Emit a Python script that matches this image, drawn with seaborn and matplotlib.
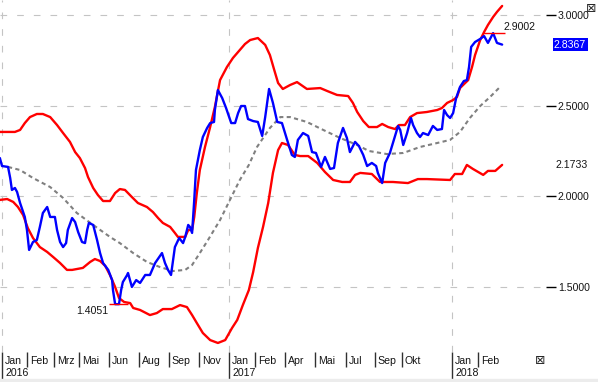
import matplotlib
matplotlib.use("Agg")
import matplotlib.pyplot as plt
import matplotlib.transforms as mtransforms
from matplotlib.patches import Rectangle
import seaborn as sns
import numpy as np

# weekly close (x = weeks since Jan 2016)
price_wk = [-0.5, 0.0, 1.4, 1.9, 2.3, 3.0, 3.5, 4.2, 5.3, 5.8, 6.3, 7.2, 8.1, 8.8, 9.5, 10.5,
            11.2, 12.3, 12.8, 13.5, 14.2, 14.9, 15.3, 16.3, 17.0, 17.7, 18.6, 19.3, 19.8, 20.2,
            21.2, 22.1, 22.8, 23.5, 24.7, 25.6, 25.8, 26.3, 27.2, 27.7, 28.1, 29.1, 29.3, 30.2,
            31.2, 32.1, 33.3, 34.4, 35.6, 37.2, 37.9, 38.6, 39.3, 40.2, 41.2, 42.1, 42.6, 43.3,
            43.7, 44.2, 44.4, 44.7, 45.1, 46.0, 46.7, 47.7, 48.4, 49.3, 49.5, 50.2, 51.2, 52.1,
            53.3, 54.2, 54.9, 55.6, 56.5, 57.2, 58.4, 59.5, 60.5, 61.2, 62.1, 63.0, 64.0, 65.1,
            66.3, 67.4, 68.1, 68.8, 70.0, 71.2, 72.1, 73.0, 74.2, 75.1, 76.3, 77.2, 78.1, 79.3,
            80.2, 80.9, 82.1, 83.0, 84.0, 84.9, 86.0, 87.0, 87.4, 88.4, 89.1, 90.2, 90.9, 92.1,
            92.6, 93.3, 94.2, 95.1, 95.6, 96.5, 97.2, 97.9, 99.1, 100.2, 101.2, 102.3, 102.8,
            103.5, 104.2, 104.9, 105.6, 106.5, 107.4, 108.1, 108.6, 109.1, 110.0, 111.2, 112.1,
            113.0, 114.2, 115.1, 116.3]
price = [2.211, 2.167, 2.162, 2.101, 2.035, 2.046, 2.024, 1.963, 1.886, 1.814, 1.704, 1.748,
         1.759, 1.831, 1.908, 1.941, 1.886, 1.886, 1.814, 1.748, 1.720, 1.742, 1.814, 1.880,
         1.858, 1.803, 1.748, 1.742, 1.814, 1.853, 1.842, 1.759, 1.687, 1.632, 1.594, 1.538,
         1.483, 1.4051, 1.4051, 1.483, 1.527, 1.566, 1.577, 1.500, 1.538, 1.522, 1.566, 1.566,
         1.632, 1.687, 1.632, 1.594, 1.566, 1.720, 1.770, 1.742, 1.776, 1.842, 1.831, 1.798,
         1.869, 1.980, 2.145, 2.255, 2.327, 2.377, 2.404, 2.410, 2.476, 2.586, 2.542, 2.487,
         2.404, 2.404, 2.459, 2.498, 2.498, 2.426, 2.415, 2.410, 2.333, 2.437, 2.592, 2.515,
         2.410, 2.404, 2.311, 2.228, 2.217, 2.311, 2.349, 2.333, 2.244, 2.239, 2.162, 2.217,
         2.151, 2.156, 2.294, 2.377, 2.322, 2.244, 2.300, 2.277, 2.228, 2.167, 2.184, 2.167,
         2.129, 2.073, 2.184, 2.239, 2.294, 2.388, 2.366, 2.283, 2.349, 2.432, 2.393, 2.349,
         2.327, 2.349, 2.338, 2.388, 2.366, 2.371, 2.476, 2.448, 2.432, 2.459, 2.542, 2.603,
         2.636, 2.641, 2.713, 2.824, 2.851, 2.868, 2.884, 2.846, 2.9002, 2.846, 2.8367]

# upper bollinger band
upper_wk = [-0.5, 3.0, 4.2, 5.3, 6.5, 8.1, 9.5, 11.2, 12.8, 14.2, 15.8, 17.0, 18.1, 19.3, 20.0,
            21.2, 22.3, 23.5, 25.1, 26.3, 27.4, 28.6, 30.2, 31.6, 33.7, 35.1, 36.3, 37.4, 39.1,
            40.2, 40.9, 42.6, 43.3, 44.2, 44.7, 45.3, 46.0, 47.2, 48.4, 49.5, 50.7, 52.3, 53.7,
            55.3, 56.5, 57.7, 59.5, 61.2, 62.3, 63.3, 64.2, 65.3, 67.0, 68.6, 70.9, 74.0, 75.6,
            77.9, 80.5, 81.6, 82.6, 84.0, 85.3, 87.2, 88.4, 89.8, 91.4, 92.3, 93.7, 94.9, 96.5,
            98.8, 101.2, 102.3, 103.5, 104.9, 105.8, 106.5, 107.7, 108.4, 109.3, 110.0, 111.2,
            112.1, 113.0, 114.2, 115.1, 116.3]
upper = [2.355, 2.355, 2.366, 2.404, 2.437, 2.454, 2.454, 2.437, 2.393, 2.349, 2.300, 2.244,
         2.211, 2.156, 2.106, 2.046, 2.007, 1.974, 1.974, 2.018, 2.040, 2.035, 1.996, 1.963,
         1.941, 1.913, 1.880, 1.853, 1.831, 1.798, 1.776, 1.776, 1.814, 1.814, 1.886, 2.018,
         2.145, 2.272, 2.382, 2.493, 2.641, 2.713, 2.763, 2.807, 2.840, 2.862, 2.873, 2.835,
         2.779, 2.697, 2.625, 2.592, 2.614, 2.630, 2.592, 2.597, 2.581, 2.559, 2.553, 2.515,
         2.465, 2.415, 2.382, 2.382, 2.399, 2.382, 2.371, 2.393, 2.393, 2.437, 2.459, 2.465,
         2.476, 2.487, 2.515, 2.531, 2.548, 2.597, 2.625, 2.641, 2.713, 2.779, 2.862, 2.906,
         2.945, 2.989, 3.017, 3.050]

# lower bollinger band
lower_wk = [-0.5, 1.2, 2.6, 3.7, 4.9, 6.0, 7.2, 8.8, 10.5, 11.9, 13.5, 15.1, 16.3, 18.8, 20.5,
            21.6, 22.8, 24.0, 25.1, 26.3, 27.2, 28.4, 29.8, 30.5, 32.1, 34.4, 36.0, 37.4, 39.5,
            41.4, 43.0, 44.2, 45.3, 46.7, 48.4, 50.2, 51.9, 53.5, 54.7, 56.0, 57.4, 58.4, 59.5,
            60.7, 61.9, 63.0, 64.2, 65.1, 66.5, 68.1, 69.3, 71.2, 73.3, 75.1, 77.0, 79.1, 80.9,
            82.1, 83.3, 86.0, 87.9, 90.9, 94.4, 96.7, 98.8, 104.2, 105.3, 107.0, 108.1, 109.5,
            111.9, 113.0, 114.7, 116.3]
lower = [1.980, 1.985, 1.969, 1.941, 1.897, 1.825, 1.770, 1.720, 1.693, 1.665, 1.632, 1.594,
         1.594, 1.605, 1.638, 1.654, 1.643, 1.616, 1.566, 1.500, 1.439, 1.417, 1.411, 1.384,
         1.373, 1.345, 1.356, 1.378, 1.378, 1.400, 1.389, 1.345, 1.301, 1.246, 1.207, 1.191,
         1.207, 1.274, 1.318, 1.400, 1.483, 1.582, 1.715, 1.831, 1.963, 2.129, 2.255, 2.294,
         2.283, 2.228, 2.222, 2.222, 2.184, 2.134, 2.090, 2.079, 2.079, 2.118, 2.129, 2.123,
         2.079, 2.079, 2.073, 2.095, 2.095, 2.090, 2.123, 2.123, 2.173, 2.151, 2.118, 2.140,
         2.140, 2.1733]

# middle band (moving average)
mid_wk = [1.4, 4.2, 7.2, 11.2, 14.2, 17.4, 21.2, 25.1, 27.4, 30.5, 33.7, 36.7, 39.8, 42.6, 44.2,
          46.0, 47.9, 50.7, 53.0, 55.3, 57.4, 59.3, 62.3, 64.7, 67.0, 70.9, 74.7, 78.6, 82.6,
          85.3, 89.5, 93.3, 97.2, 101.2, 104.2, 106.5, 108.8, 111.2, 113.5, 115.8]
mid = [2.162, 2.145, 2.101, 2.051, 1.991, 1.908, 1.842, 1.776, 1.742, 1.687, 1.638, 1.610,
       1.588, 1.594, 1.621, 1.687, 1.759, 1.869, 1.980, 2.090, 2.173, 2.272, 2.377, 2.437,
       2.437, 2.410, 2.366, 2.322, 2.283, 2.250, 2.233, 2.239, 2.272, 2.294, 2.311, 2.355,
       2.432, 2.498, 2.548, 2.603]

# axis labels
month_wk = [5.8, 12.1, 17.9, 24.9, 31.9, 38.8, 45.8, 58.8, 65.8, 72.8, 80.0, 86.7, 93.0, 110.7]
month_names = ["Feb", "Mrz", "Mai", "Jun", "Aug", "Sep", "Nov", "Feb", "Apr", "Mai", "Jul",
               "Sep", "Okt", "Feb"]
year_wk = [0.0, 52.8, 104.7]
year_names = ["2016", "2017", "2018"]
levels = [1.5, 2.0, 2.5, 3.0]

sns.set_style("white")
plt.rcParams["font.family"] = ["Liberation Sans", "DejaVu Sans"]
FS = 7.6
TXT = "#141414"

fig = plt.figure(figsize=(5.98, 3.82), dpi=100)
H = 352
ax = fig.add_axes([0, 1 - H / 382, 546 / 598, H / 382])

sns.lineplot(x=mid_wk, y=mid, ax=ax, color="#808080", linewidth=1.5, sort=False, estimator=None)
ax.lines[-1].set_dashes((2, 1.6))
sns.lineplot(x=upper_wk, y=upper, ax=ax, color="#ff0000", linewidth=1.7, sort=False, estimator=None)
sns.lineplot(x=lower_wk, y=lower, ax=ax, color="#ff0000", linewidth=1.7, sort=False, estimator=None)
sns.lineplot(x=price_wk, y=price, ax=ax, color="#0000ff", linewidth=1.7, sort=False, estimator=None)

ax.set_xlim(-0.47, 126.5)
ax.set_ylim(3 - 337 / 181.3, 3 + 15 / 181.3)
for s in ax.spines.values():
    s.set_visible(False)

ax.set_xticks(year_wk)
ax.set_xticks(month_wk, minor=True)
ax.set_xticklabels([])
ax.tick_params(axis="x", which="both", bottom=True, top=False)
ax.tick_params(axis="x", which="major", direction="out", length=20, width=1, color="#303030")
ax.tick_params(axis="x", which="minor", direction="out", length=11, width=1, color="#303030")

ax.yaxis.tick_right()
ax.set_yticks(levels)
ax.set_yticklabels([f"{v:.4f}" for v in levels])
ax.tick_params(axis="y", right=True, left=False, direction="out", length=7.5, width=1,
               color="black", pad=1, labelsize=FS, labelcolor=TXT)
ax.set_xlabel("")
ax.set_ylabel("")
ax.grid(True, which="major", color="#c4c4c4", linewidth=0.8, linestyle=(0, (6, 9)))

def shift(dx, dy):
    return mtransforms.ScaledTranslation(dx / 100, dy / 100, fig.dpi_scale_trans)

xt = ax.get_xaxis_transform()
for pos, name in zip(month_wk + [year_wk[0], year_wk[1], year_wk[2]],
                     month_names + ["Jan", "Jan", "Jan"]):
    ax.text(pos, 0, name, transform=xt + shift(3, -9), ha="left", va="center",
            fontsize=FS, color=TXT, clip_on=False)
for pos, name in zip(year_wk, year_names):
    ax.text(pos, 0, name, transform=xt + shift(3, -21.5), ha="left", va="center",
            fontsize=FS, color=TXT, clip_on=False)

# min / max markers
pw = np.array(price_wk)
pv = np.array(price)
imax, imin = int(np.argmax(pv)), int(np.argmin(pv))
ax.hlines(pv[imax], pw[imax] - 2.3, pw[imax] + 2.8, color="#ff0000", linewidth=1)
ax.text(pw[imax], pv[imax], f"{pv[imax]:.4f}", transform=ax.transData + shift(10, 1),
        ha="left", va="bottom", fontsize=FS, color=TXT)
ax.hlines(pv[imin], pw[imin] - 1.4, pw[imin] + 3.0, color="#ff0000", linewidth=1)
ax.text(pw[imin], pv[imin], f"{pv[imin]:.4f}", transform=ax.transData + shift(-7, -2),
        ha="right", va="top", fontsize=FS, color=TXT)

# last values on the right
yt = ax.get_yaxis_transform()
ax.text(1.0, price[-1], f"{price[-1]:.4f}", transform=yt + shift(8, 0), ha="left",
        va="center", fontsize=FS, color="white", clip_on=False,
        bbox=dict(boxstyle="square,pad=0.12", fc="#0000ff", ec="none"))
ax.text(1.0, lower[-1], f"{lower[-1]:.4f}", transform=yt + shift(9, 0), ha="left",
        va="center", fontsize=FS, color=TXT, clip_on=False)

fig.text(591 / 598, 1 - 8 / 382, "\u22a0", ha="center", va="center", fontsize=9,
         family=["DejaVu Sans"])
fig.text(540 / 598, 1 - 360 / 382, "\u22a0", ha="center", va="center", fontsize=9,
         family=["DejaVu Sans"])
fig.add_artist(Rectangle((0, 0), 1, 3 / 382, transform=fig.transFigure, color="#ececec"))

fig.savefig("out.png", dpi=100)
